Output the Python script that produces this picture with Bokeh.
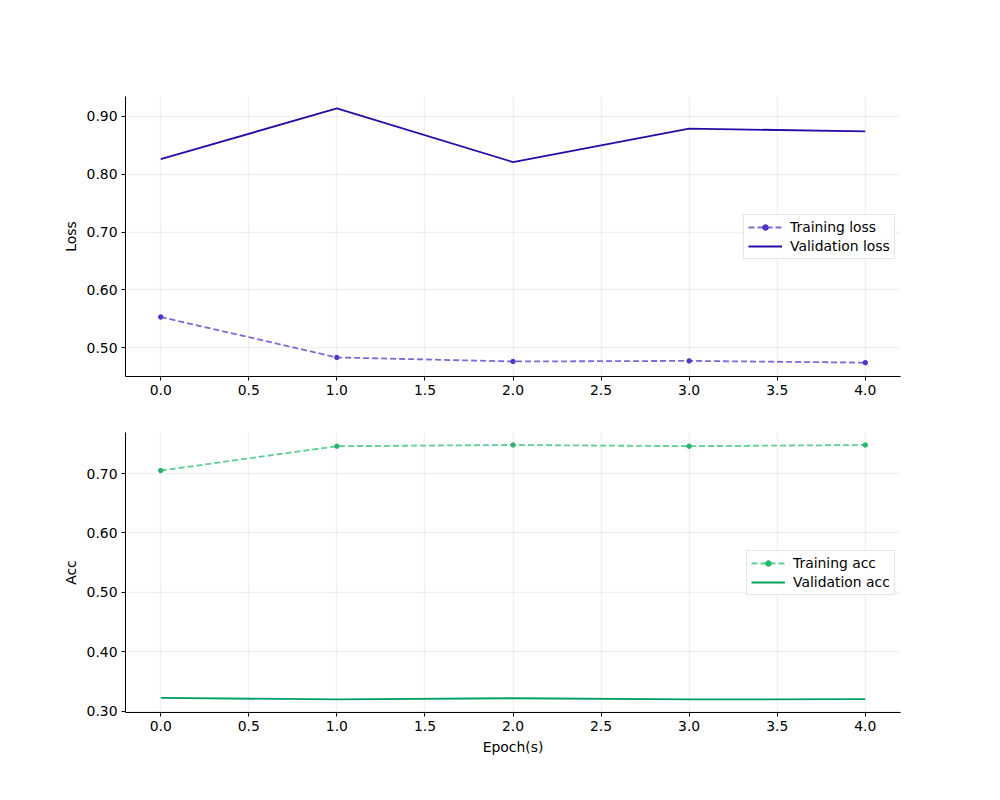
from bokeh.plotting import figure
from bokeh.layouts import column
from bokeh.models import Legend, LegendItem, FixedTicker, NumeralTickFormatter, Range1d
from bokeh.embed import file_html
from bokeh.resources import INLINE

epochs = [0, 1, 2, 3, 4]
train_loss = [0.553, 0.483, 0.476, 0.477, 0.474]
val_loss = [0.826, 0.914, 0.821, 0.879, 0.874]
train_acc = [0.705, 0.746, 0.748, 0.746, 0.748]
val_acc = [0.3225, 0.3200, 0.3220, 0.3200, 0.3205]

x_ticks = [0.0, 0.5, 1.0, 1.5, 2.0, 2.5, 3.0, 3.5, 4.0]
loss_ticks = [0.5, 0.6, 0.7, 0.8, 0.9]
acc_ticks = [0.3, 0.4, 0.5, 0.6, 0.7]

FONT = "DejaVu Sans"
FS = "13.9px"


def style(p, yticks, ylabel, xlabel=None):
    p.outline_line_color = None
    p.xaxis.ticker = FixedTicker(ticks=x_ticks)
    p.yaxis.ticker = FixedTicker(ticks=yticks)
    p.xaxis.formatter = NumeralTickFormatter(format="0.0")
    p.yaxis.formatter = NumeralTickFormatter(format="0.00")
    for ax in (p.xaxis[0], p.yaxis[0]):
        ax.axis_line_color = "black"
        ax.axis_line_width = 1
        ax.major_tick_line_color = "black"
        ax.major_tick_out = 4
        ax.major_tick_in = 0
        ax.minor_tick_line_color = None
        ax.major_label_text_font = FONT
        ax.major_label_text_font_size = FS
        ax.major_label_text_color = "black"
        ax.major_label_standoff = 4
        ax.axis_label_text_font = FONT
        ax.axis_label_text_font_size = FS
        ax.axis_label_text_font_style = "normal"
        ax.axis_label_text_color = "black"
    p.yaxis.axis_label = ylabel
    p.yaxis.axis_label_standoff = 5
    if xlabel:
        p.xaxis.axis_label = xlabel
        p.xaxis.axis_label_standoff = 5
    for g in (p.xgrid[0], p.ygrid[0]):
        g.grid_line_color = "#b0b0b0"
        g.grid_line_alpha = 0.18
        g.grid_line_width = 1.5


def style_legend(lg):
    lg.border_line_color = "#cccccc"
    lg.border_line_width = 1
    lg.background_fill_alpha = 0.8
    lg.label_text_font = FONT
    lg.label_text_font_size = FS
    lg.label_text_color = "black"
    lg.glyph_width = 34
    lg.glyph_height = 14
    lg.label_height = 14
    lg.spacing = 3
    lg.padding = 4
    lg.margin = 0
    lg.label_standoff = 8


p1 = figure(width=984, height=408, output_backend="svg", toolbar_location=None,
            x_range=Range1d(-0.2, 4.2), y_range=Range1d(0.45, 0.9345),
            min_border_left=125, min_border_right=84, min_border_top=96, min_border_bottom=32)
style(p1, loss_ticks, "Loss")
tl_line = p1.line(epochs, train_loss, line_color="#7a6ad8", line_width=1.8, line_dash="6 3")
tl_pts = p1.scatter(epochs, train_loss, size=4.5, fill_color="#4a36c8", line_color="#4a36c8")
vl_line = p1.line(epochs, val_loss, line_color="#2a0aa8", line_width=1.8)
lg1 = Legend(items=[LegendItem(label="Training loss", renderers=[tl_line, tl_pts]),
                    LegendItem(label="Validation loss", renderers=[vl_line])],
             location=(618, 117))
style_legend(lg1)
p1.add_layout(lg1, "center")

p2 = figure(width=984, height=376, output_backend="svg", toolbar_location=None,
            x_range=Range1d(-0.2, 4.2), y_range=Range1d(0.298, 0.769),
            min_border_left=125, min_border_right=84, min_border_top=24, min_border_bottom=72)
style(p2, acc_ticks, "Acc", "Epoch(s)")
ta_line = p2.line(epochs, train_acc, line_color="#5ccf95", line_width=1.8, line_dash="6 3")
ta_pts = p2.scatter(epochs, train_acc, size=4.5, fill_color="#2ab56c", line_color="#2ab56c")
va_line = p2.line(epochs, val_acc, line_color="#00a060", line_width=1.8)
lg2 = Legend(items=[LegendItem(label="Training acc", renderers=[ta_line, ta_pts]),
                    LegendItem(label="Validation acc", renderers=[va_line])],
             location=(621, 117))
style_legend(lg2)
p2.add_layout(lg2, "center")

layout = column(p1, p2, spacing=0)
open("out.html", "w").write(file_html(layout, INLINE))
